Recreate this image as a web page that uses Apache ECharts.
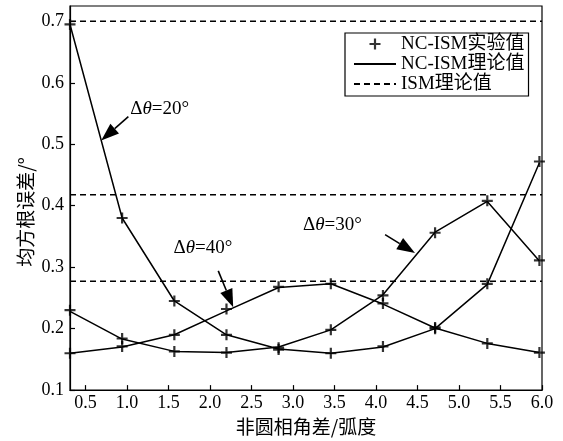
<!DOCTYPE html>
<html>
<head>
<meta charset="utf-8">
<script src="https://cdn.jsdelivr.net/npm/echarts@6/dist/echarts.min.js"></script>
<style>
  html, body { margin: 0; padding: 0; background: #fff; }
  #main { width: 563px; height: 441px; }
</style>
</head>
<body>
<div id="main"></div>
<script>
// Phase difference of the non-circular signals (rad)
const phaseDiff = [0.314, 0.942, 1.571, 2.199, 2.827, 3.456, 4.084, 4.712, 5.341, 5.969];

// NC-ISM theoretical RMSE (deg)
const theory20 = [0.695, 0.380, 0.245, 0.190, 0.167, 0.160, 0.170, 0.200, 0.272, 0.470];
const theory30 = [0.228, 0.183, 0.163, 0.161, 0.170, 0.198, 0.255, 0.357, 0.407, 0.310];
const theory40 = [0.160, 0.170, 0.190, 0.229, 0.267, 0.273, 0.240, 0.201, 0.176, 0.161];

// NC-ISM experimental RMSE (deg)
const exper20 = [0.695, 0.380, 0.245, 0.190, 0.166, 0.160, 0.171, 0.200, 0.273, 0.472];
const exper30 = [0.230, 0.184, 0.163, 0.161, 0.169, 0.198, 0.254, 0.356, 0.408, 0.311];
const exper40 = [0.160, 0.171, 0.190, 0.232, 0.268, 0.273, 0.241, 0.202, 0.176, 0.161];

// ISM theoretical RMSE (flat, independent of phase difference)
const ismLevels = [0.700, 0.418, 0.277];

const xRange = [0.314, 6.0];
const yRange = [0.1, 0.725];
const xTicks = [0.5, 1.0, 1.5, 2.0, 2.5, 3.0, 3.5, 4.0, 4.5, 5.0, 5.5, 6.0];
const yTicks = [0.1, 0.2, 0.3, 0.4, 0.5, 0.6, 0.7];

// Curve annotations: text anchor, arrow tail and arrow tip in data units
const notes = [
  { angle: '20°', text: [1.04, 0.558], tail: [1.017, 0.545], tip: [0.69, 0.506] },
  { angle: '40°', text: [1.56, 0.332], tail: [2.10, 0.294], tip: [2.28, 0.235] },
  { angle: '30°', text: [3.12, 0.369], tail: [4.11, 0.353], tip: [4.47, 0.323] }
];

const SERIF = '"Liberation Serif", "Times New Roman", "Noto Sans CJK SC", serif';
const CJK = '"Noto Sans CJK SC", "Liberation Serif", sans-serif';
const PLUS = 'path://M4,0H6V4H10V6H6V10H4V6H0V4H4Z';

const pairs = (ys) => phaseDiff.map((x, i) => [x, ys[i]]);

const series = [];
[theory20, theory30, theory40].forEach((ys) => {
  series.push({
    name: 'NC-ISM理论值', type: 'line', data: pairs(ys),
    symbol: 'none', itemStyle: { color: '#000' },
    lineStyle: { color: '#000', width: 1.5 }, z: 3
  });
});
[exper20, exper30, exper40].forEach((ys) => {
  series.push({
    name: 'NC-ISM实验值', type: 'scatter', data: pairs(ys),
    symbol: PLUS, symbolSize: 11, itemStyle: { color: '#000' }, z: 4
  });
});
ismLevels.forEach((v) => {
  series.push({
    name: 'ISM理论值', type: 'line', data: [[xRange[0], v], [xRange[1], v]],
    symbol: 'none', itemStyle: { color: '#000' },
    lineStyle: { color: '#000', width: 1.5, type: [6, 4] }, z: 2
  });
});

const chart = echarts.init(document.getElementById('main'), null, { renderer: 'canvas' });

const option = {
  animation: false,
  backgroundColor: '#fff',
  grid: { left: 70, right: 21, top: 6, bottom: 47, show: true, borderColor: '#000', borderWidth: 1.2, backgroundColor: 'transparent' },
  legend: {
    orient: 'vertical', left: 345, top: 33,
    padding: [1, 4, 2, 8], itemGap: 0, itemWidth: 42, itemHeight: 11,
    borderColor: '#000', borderWidth: 1.2, backgroundColor: '#fff',
    selectedMode: false,
    textStyle: { fontSize: 19, fontFamily: SERIF, color: '#000', lineHeight: 20 },
    data: [
      { name: 'NC-ISM实验值', icon: PLUS },
      { name: 'NC-ISM理论值', itemStyle: { opacity: 0 } },
      { name: 'ISM理论值', itemStyle: { opacity: 0 } }
    ]
  },
  xAxis: {
    type: 'value', min: xRange[0], max: xRange[1],
    name: '非圆相角差/弧度', nameLocation: 'middle', nameGap: 26,
    nameTextStyle: { fontSize: 19, fontFamily: CJK, color: '#000' },
    axisLine: { lineStyle: { color: '#000', width: 1.2 } },
    axisTick: { inside: true, length: 5, customValues: xTicks, lineStyle: { color: '#000', width: 1.2 } },
    axisLabel: { customValues: xTicks, formatter: (v) => v.toFixed(1), margin: 4, fontSize: 18, fontFamily: SERIF, color: '#000' },
    splitLine: { show: false }
  },
  yAxis: {
    type: 'value', min: yRange[0], max: yRange[1],
    axisLine: { lineStyle: { color: '#000', width: 1.2 } },
    axisTick: { inside: true, length: 5, customValues: yTicks, lineStyle: { color: '#000', width: 1.2 } },
    axisLabel: { customValues: yTicks, formatter: (v) => v.toFixed(1), margin: 6, fontSize: 18, fontFamily: SERIF, color: '#000' },
    splitLine: { show: false }
  },
  series: series
};

chart.setOption(option);

// Axis title on the left, rotated
const graphics = [{
  type: 'text', x: 26, y: 212, rotation: Math.PI / 2,
  style: { text: '均方根误差/°', font: '19px ' + CJK, fill: '#000', align: 'center', verticalAlign: 'middle' }
}];

// Δθ annotations with filled arrowheads
notes.forEach((n) => {
  const tp = chart.convertToPixel({ gridIndex: 0 }, n.text);
  const a = chart.convertToPixel({ gridIndex: 0 }, n.tail);
  const b = chart.convertToPixel({ gridIndex: 0 }, n.tip);
  const dx = b[0] - a[0], dy = b[1] - a[1];
  const len = Math.hypot(dx, dy);
  const ux = dx / len, uy = dy / len;
  const headLen = 18, headW = 6.5;
  const base = [b[0] - ux * headLen, b[1] - uy * headLen];
  graphics.push({
    type: 'line', shape: { x1: a[0], y1: a[1], x2: base[0], y2: base[1] },
    style: { stroke: '#000', lineWidth: 1.6 }, z: 10
  });
  graphics.push({
    type: 'polygon',
    shape: { points: [b, [base[0] - uy * headW, base[1] + ux * headW], [base[0] + uy * headW, base[1] - ux * headW]] },
    style: { fill: '#000' }, z: 10
  });
  graphics.push({
    type: 'text', x: tp[0], y: tp[1], z: 10,
    style: {
      text: '{n|Δ}{i|θ}{n|=' + n.angle + '}',
      verticalAlign: 'middle', align: 'left',
      rich: {
        n: { fontSize: 19, fontFamily: SERIF, fill: '#000' },
        i: { fontSize: 19, fontFamily: SERIF, fontStyle: 'italic', fill: '#000' }
      }
    }
  });
});

chart.setOption({ graphic: graphics });
</script>
</body>
</html>
